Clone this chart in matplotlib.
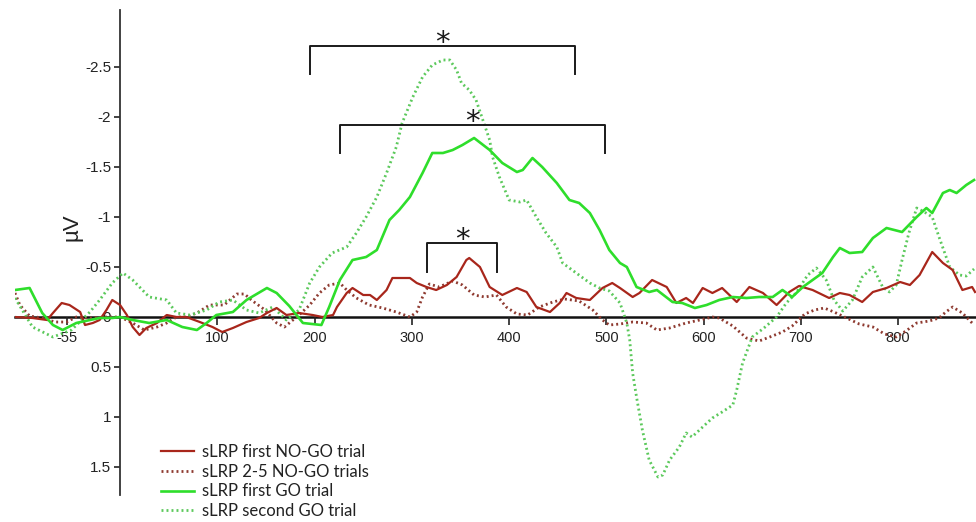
import matplotlib
matplotlib.use('Agg')
import matplotlib.pyplot as plt

plt.rcParams['font.family'] = ['Liberation Sans', 'DejaVu Sans']

# ---------------- data (time in ms, amplitude in µV; negative plotted up) ----------------
nogo1_t = [-108, -90, -75, -69, -60, -52, -41, -36, -28, -21, -14, -8, 0, 7, 13, 20, 27, 38, 48, 58,
           68, 82, 95, 105, 116, 130, 143, 151, 161, 171, 184, 198, 208, 219, 223, 233, 239, 250, 257,
           264, 274, 280, 290, 298, 305, 315, 325, 336, 346, 356, 359, 370, 380, 393, 408, 418, 428,
           442, 452, 459, 469, 483, 496, 506, 514, 527, 534, 547, 562, 572, 582, 589, 599, 609, 619,
           634, 647, 661, 675, 688, 698, 712, 729, 740, 750, 763, 774, 788, 802, 812, 822, 835, 846,
           856, 866, 876, 879]
nogo1_v = [0.00, 0.01, 0.03, -0.04, -0.14, -0.12, -0.05, 0.08, 0.06, 0.03, -0.07, -0.17, -0.12,
           -0.02, 0.10, 0.18, 0.11, 0.06, -0.02, 0.00, 0.00, 0.05, 0.10, 0.15, 0.11, 0.05, 0.01,
           -0.04, -0.09, -0.02, -0.04, -0.02, 0.00, -0.02, -0.10, -0.24, -0.29, -0.22, -0.22,
           -0.17, -0.27, -0.39, -0.39, -0.39, -0.34, -0.30, -0.27, -0.32, -0.40, -0.57, -0.59,
           -0.50, -0.30, -0.22, -0.29, -0.25, -0.10, -0.05, -0.14, -0.24, -0.19, -0.17, -0.29,
           -0.34, -0.29, -0.20, -0.24, -0.37, -0.30, -0.14, -0.19, -0.14, -0.29, -0.24, -0.29,
           -0.15, -0.30, -0.24, -0.12, -0.25, -0.31, -0.27, -0.19, -0.24, -0.22, -0.15, -0.25,
           -0.29, -0.35, -0.32, -0.42, -0.65, -0.54, -0.47, -0.27, -0.30, -0.25]

nogo25_t = [-108, -103, -93, -80, -67, -55, -45, -31, -14, 0, 13, 25, 38, 48, 58, 68, 79, 92, 107,
            120, 128, 135, 149, 161, 169, 184, 195, 205, 215, 226, 233, 243, 256, 270, 284, 298,
            305, 311, 318, 328, 342, 352, 364, 375, 387, 397, 408, 419, 431, 445, 457, 472, 486,
            496, 503, 514, 527, 541, 552, 565, 582, 596, 609, 616, 630, 644, 657, 668, 681, 691,
            704, 714, 724, 734, 747, 760, 774, 786, 798, 808, 819, 832, 842, 849, 856, 866, 878]
nogo25_v = [-0.24, -0.12, -0.01, 0.01, 0.05, 0.05, 0.00, 0.01, 0.00, 0.00, 0.06, 0.13, 0.10,
            0.06, 0.00, 0.00, -0.04, -0.12, -0.12, -0.23, -0.23, -0.17, -0.07, 0.06, 0.10, -0.02,
            -0.12, -0.24, -0.32, -0.34, -0.27, -0.19, -0.12, -0.09, -0.05, 0.00, -0.05, -0.20,
            -0.33, -0.30, -0.36, -0.32, -0.22, -0.20, -0.22, -0.10, -0.03, -0.02, -0.10, -0.15,
            -0.18, -0.16, -0.07, 0.03, 0.08, 0.07, 0.05, 0.06, 0.13, 0.11, 0.06, 0.03, 0.00, 0.01,
            0.09, 0.21, 0.24, 0.20, 0.15, 0.09, -0.03, -0.07, -0.09, -0.05, 0.01, 0.07, 0.10, 0.17,
            0.20, 0.14, 0.06, 0.04, 0.01, -0.05, -0.10, -0.04, 0.08]

go1_t = [-108, -93, -80, -69, -59, -45, -31, -21, -8, 0, 13, 30, 48, 64, 79, 89, 99, 116, 130,
         151, 161, 174, 188, 207, 215, 226, 239, 253, 264, 277, 287, 298, 311, 321, 332, 342, 352,
         364, 380, 393, 408, 414, 424, 434, 449, 462, 472, 483, 493, 503, 514, 521, 531, 544, 552,
         568, 578, 591, 603, 616, 630, 644, 657, 671, 681, 691, 702, 712, 722, 733, 740, 750, 763,
         774, 788, 804, 819, 829, 835, 846, 853, 860, 870, 878]
go1_v = [-0.27, -0.29, -0.04, 0.08, 0.13, 0.06, 0.03, 0.01, 0.01, 0.00, 0.03, 0.06, 0.03, 0.10,
         0.13, 0.06, -0.02, -0.05, -0.17, -0.29, -0.24, -0.11, 0.06, 0.08, -0.10, -0.37, -0.57,
         -0.60, -0.67, -0.97, -1.07, -1.20, -1.44, -1.64, -1.64, -1.67, -1.72, -1.79, -1.67,
         -1.54, -1.45, -1.47, -1.59, -1.50, -1.34, -1.17, -1.14, -1.04, -0.87, -0.67, -0.54,
         -0.50, -0.30, -0.25, -0.27, -0.15, -0.14, -0.09, -0.12, -0.17, -0.20, -0.19, -0.20,
         -0.20, -0.27, -0.20, -0.30, -0.37, -0.44, -0.60, -0.69, -0.64, -0.65, -0.79, -0.89,
         -0.85, -1.00, -1.09, -1.04, -1.24, -1.27, -1.24, -1.32, -1.37]

go2_t = [-108, -90, -69, -50, -31, -21, -8, 3, 13, 30, 48, 58, 72, 89, 102, 116, 130, 143, 157,
         171, 184, 195, 205, 218, 233, 243, 253, 264, 274, 284, 290, 301, 311, 321, 332, 339, 346,
         351, 359, 366, 373, 380, 383, 390, 400, 411, 418, 428, 438, 449, 455, 469, 483, 493, 503,
         514, 521, 524, 527, 531, 537, 544, 553, 558, 565, 575, 582, 588, 599, 609, 619, 630, 634,
         640, 650, 662, 675, 685, 695, 707, 716, 726, 734, 743, 753, 763, 774, 784, 791, 798, 804,
         811, 819, 827, 835, 842, 853, 863, 870, 878]
go2_v = [-0.19, 0.10, 0.20, 0.13, -0.05, -0.17, -0.34, -0.44, -0.37, -0.20, -0.17, -0.04, -0.02,
         -0.07, -0.15, -0.17, -0.07, -0.04, -0.10, 0.03, -0.07, -0.34, -0.50, -0.64, -0.70, -0.84,
         -1.00, -1.20, -1.44, -1.70, -1.94, -2.20, -2.40, -2.52, -2.57, -2.57, -2.47, -2.34,
         -2.27, -2.17, -1.97, -1.77, -1.60, -1.40, -1.17, -1.15, -1.17, -1.00, -0.84, -0.70,
         -0.54, -0.44, -0.34, -0.29, -0.26, -0.14, 0.06, 0.23, 0.56, 0.80, 1.13, 1.43, 1.60, 1.58,
         1.43, 1.30, 1.16, 1.20, 1.10, 1.01, 0.95, 0.88, 0.73, 0.46, 0.20, 0.11, 0.00, -0.14,
         -0.24, -0.42, -0.49, -0.37, -0.17, -0.06, -0.17, -0.40, -0.50, -0.30, -0.25, -0.32,
         -0.57, -0.84, -1.09, -1.05, -1.00, -0.80, -0.50, -0.42, -0.41, -0.48]

series_labels = ['sLRP first NO-GO trial', 'sLRP 2-5 NO-GO trials',
                 'sLRP first GO trial', 'sLRP second GO trial']

x_ticks = [-55, 100, 200, 300, 400, 500, 600, 700, 800]
x_ticklabels = ['-55', '100', '200', '300', '400', '500', '600', '700', '800']
y_ticks = [-2.5, -2, -1.5, -1, -0.5, 0, 0.5, 1, 1.5]
y_ticklabels = ['-2.5', '-2', '-1.5', '-1', '-0.5', '0', '0.5', '1', '1.5']

# significance brackets (ms start, ms end, top µV, leg-bottom µV)
brk_start = [195, 226, 316]
brk_end = [468, 499, 388]
brk_top = [-2.71, -1.92, -0.74]
brk_bottom = [-2.43, -1.64, -0.45]

# ---------------- figure ----------------
W, H = 976, 522
fig = plt.figure(figsize=(W / 100, H / 100), dpi=100)
ax = fig.add_axes([15 / W, 1 - 495 / H, 961 / W, 485 / H])
ax.set_xlim(-108, 880)
ax.set_ylim(1.78, -3.07)

c_red = '#a8261b'
c_red_dot = '#8e3a30'
c_green = '#2ede2b'
c_green_dot = '#5cc95c'

h_b, = ax.plot(nogo25_t, nogo25_v, color=c_red_dot, lw=2.0, linestyle=(0, (0.7, 1.1)),
               label=series_labels[1], zorder=2)
h_d, = ax.plot(go2_t, go2_v, color=c_green_dot, lw=2.0, linestyle=(0, (0.7, 1.1)),
               label=series_labels[3], zorder=3)
h_a, = ax.plot(nogo1_t, nogo1_v, color=c_red, lw=1.6, label=series_labels[0], zorder=4,
               solid_joinstyle='round')
h_c, = ax.plot(go1_t, go1_v, color=c_green, lw=1.9, label=series_labels[2], zorder=5,
               solid_joinstyle='round')

for s, e, t, b in zip(brk_start, brk_end, brk_top, brk_bottom):
    ax.plot([s, s, e, e], [b, t, t, b], color='#1a1a1a', lw=1.4, zorder=6, clip_on=False)
    ax.text((s + e) / 2, t + 0.05, '*', ha='center', va='baseline', fontsize=21,
            color='#1a1a1a', family='DejaVu Sans')

# axes styling
for sp in ['top', 'right']:
    ax.spines[sp].set_visible(False)
ax.spines['left'].set_position(('data', 0))
ax.spines['bottom'].set_position(('data', 0))
ax.spines['left'].set_color('#333333')
ax.spines['left'].set_linewidth(1.3)
ax.spines['bottom'].set_color('#111111')
ax.spines['bottom'].set_linewidth(1.8)
ax.spines['bottom'].set_zorder(1)

ax.set_xticks(x_ticks)
ax.set_xticklabels(x_ticklabels)
ax.set_yticks(y_ticks)
ax.set_yticklabels(y_ticklabels)
ax.tick_params(axis='x', direction='out', length=6, width=1.2, pad=4, labelsize=10.5,
               colors='#222222')
ax.tick_params(axis='y', direction='out', length=4.5, width=1.2, pad=2, labelsize=11,
               colors='#222222')

fig.text(72 / W, 1 - 227 / H, 'µV', rotation=90, ha='center', va='center', fontsize=16,
         color='#222222')

leg = ax.legend(handles=[h_a, h_b, h_c, h_d], labels=series_labels, loc='upper left',
                bbox_to_anchor=(161 / W, 1 - 444 / H), bbox_transform=fig.transFigure,
                frameon=False, prop={'family': 'Lato', 'size': 12}, handlelength=2.0,
                handletextpad=0.45, labelspacing=0.22, borderpad=0, borderaxespad=0)
for txt in leg.get_texts():
    txt.set_color('#222222')

fig.savefig('out.png', dpi=100)
